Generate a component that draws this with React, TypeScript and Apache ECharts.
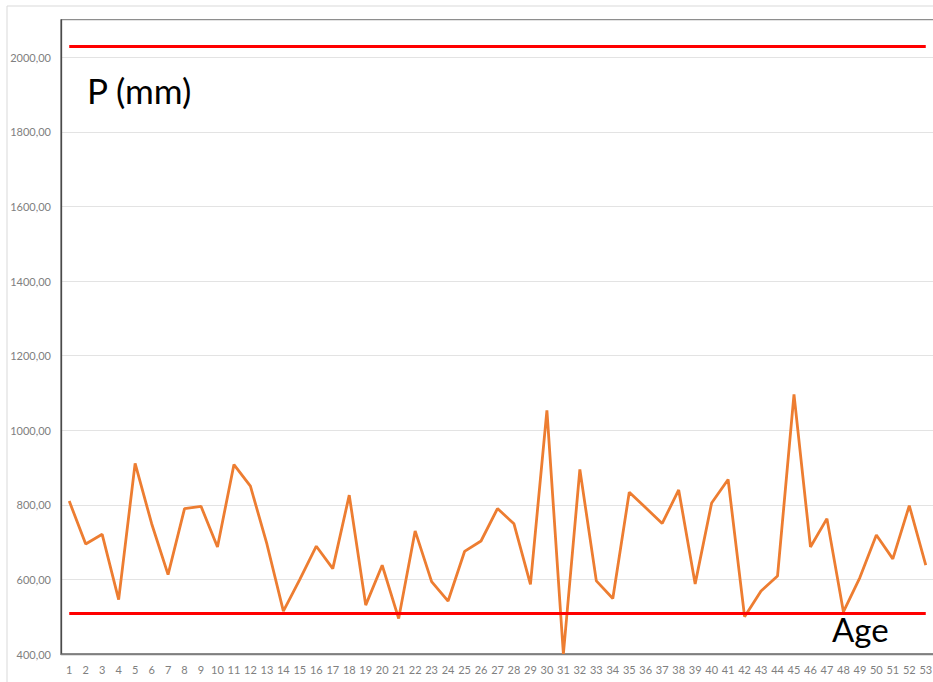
import React, { useEffect, useRef } from "react";
import * as echarts from "echarts";

const categories: string[] = [
  "1","2","3","4","5","6","7","8","9","10","11","12","13","14","15","16","17","18","19","20",
  "21","22","23","24","25","26","27","28","29","30","31","32","33","34","35","36","37","38","39","40",
  "41","42","43","44","45","46","47","48","49","50","51","52","53",
];

const precipitation: number[] = [
  810, 695, 721, 546, 911, 750, 613, 790, 796, 687,
  908, 850, 695, 515, 600, 689, 629, 826, 531, 638,
  495, 730, 594, 542, 675, 703, 790, 749, 587, 1053,
  400, 895, 596, 549, 834, 792, 750, 840, 588, 805,
  868, 500, 569, 609, 1096, 687, 763, 513, 605, 719,
  655, 798, 638,
];

const upperLimit = 2030;
const lowerLimit = 510;

const yMin = 400;
const yMax = 2100;
const yInterval = 200;

const CHART_W = 950;

export default function App() {
  const ref = useRef<HTMLDivElement>(null);

  useEffect(() => {
    if (!ref.current) return;
    const chart = echarts.init(ref.current, undefined, { renderer: "svg" });
    const first = categories[0];
    const last = categories[categories.length - 1];
    const limitLine = (v: number) => [
      { coord: [first, v] },
      { coord: [last, v] },
    ];
    chart.setOption({
      animation: false,
      backgroundColor: "#ffffff",
      grid: {
        left: 61,
        right: CHART_W - 934,
        top: 20,
        bottom: 28,
        show: true,
        borderColor: "#6a6a6a",
        borderWidth: 1.3,
        backgroundColor: "transparent",
      },
      xAxis: {
        type: "category",
        data: categories,
        boundaryGap: true,
        axisLine: { show: true, lineStyle: { color: "#7f7f7f", width: 1.3 } },
        axisTick: { show: false },
        axisLabel: {
          interval: 0,
          color: "#808080",
          fontFamily: "Lato",
          fontSize: 11,
          margin: 10,
        },
        splitLine: { show: false },
      },
      yAxis: {
        type: "value",
        min: yMin,
        max: yMax,
        interval: yInterval,
        axisLine: { show: true, lineStyle: { color: "#4a4a4a", width: 1.3 } },
        axisTick: { show: false },
        axisLabel: {
          showMaxLabel: false,
          color: "#808080",
          fontFamily: "Lato",
          fontSize: 11,
          margin: 10,
          formatter: (v: number) => v.toFixed(2).replace(".", ","),
        },
        splitLine: { show: true, lineStyle: { color: "#e3e3e3", width: 1 } },
      },
      series: [
        {
          type: "line",
          data: precipitation,
          symbol: "none",
          lineStyle: { color: "#ED7D31", width: 2.8 },
          z: 2,
        },
        {
          type: "line",
          data: [],
          symbol: "none",
          z: 3,
          markLine: {
            silent: true,
            symbol: "none",
            label: { show: false },
            lineStyle: { color: "#FF0000", width: 2.8, type: "solid" },
            data: [limitLine(upperLimit), limitLine(lowerLimit)],
          },
        },
      ],
      graphic: [
        {
          type: "line",
          shape: { x1: 7, y1: 6, x2: 7, y2: 682 },
          style: { stroke: "#d9d9d9", lineWidth: 1 },
        },
        {
          type: "line",
          shape: { x1: 7, y1: 6, x2: CHART_W, y2: 6 },
          style: { stroke: "#d9d9d9", lineWidth: 1 },
        },
        {
          type: "text",
          left: 87,
          top: 72,
          style: {
            text: "P (mm)",
            font: "35px Lato",
            fill: "#000000",
          },
        },
        {
          type: "text",
          left: 832,
          top: 612,
          style: {
            text: "Age",
            font: "33px Lato",
            fill: "#000000",
          },
        },
      ],
    });
    return () => chart.dispose();
  }, []);

  return (
    <div
      style={{ position: "fixed", left: 0, top: 0, width: 933, height: 682, overflow: "hidden", background: "#fff" }}
    >
      <div ref={ref} style={{ width: CHART_W, height: 682 }} />
    </div>
  );
}
